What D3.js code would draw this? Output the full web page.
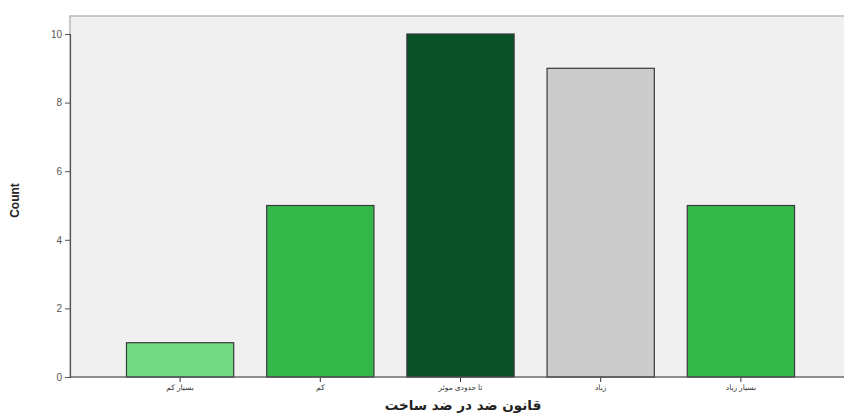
<!DOCTYPE html>
<html>
<head>
<meta charset="utf-8">
<script src="https://cdn.jsdelivr.net/npm/d3@7"></script>
<style>
  body { margin: 0; background: #fff; }
  svg { display: block; }
</style>
</head>
<body>
<svg id="chart"></svg>
<script>
// data
var categories = ["بسیار کم", "کم", "تا حدودی موثر", "زیاد", "بسیار زیاد"];
var counts = [1, 5, 10, 9, 5];
var barColors = ["#72db82", "#33b84a", "#0b5128", "#cccccc", "#33b84a"];
var yTicks = [0, 2, 4, 6, 8, 10];

var width = 844, height = 414;
var plot = { left: 70, top: 16, right: 852, bottom: 377 };

var svg = d3.select("#chart")
    .attr("width", width)
    .attr("height", height);

// plot background
svg.append("rect")
    .attr("x", plot.left)
    .attr("y", plot.top)
    .attr("width", plot.right - plot.left)
    .attr("height", plot.bottom - plot.top)
    .attr("fill", "#f0f0f0")
    .attr("stroke", "#b8b8b8")
    .attr("stroke-width", 1.5);

var x = d3.scaleBand()
    .domain(categories)
    .range([110, 811])
    .paddingInner(0.235)
    .paddingOuter(0.1175);

var y = d3.scaleLinear()
    .domain([0, 10])
    .range([plot.bottom, 34]);

svg.selectAll(".bar")
    .data(counts)
    .enter().append("rect")
    .attr("class", "bar")
    .attr("x", function (d, i) { return x(categories[i]); })
    .attr("y", function (d) { return y(d); })
    .attr("width", x.bandwidth())
    .attr("height", function (d) { return y(0) - y(d); })
    .attr("fill", function (d, i) { return barColors[i]; })
    .attr("stroke", "#3a3a3a")
    .attr("stroke-width", 1.2);

// y axis
var yAxis = svg.append("g")
    .attr("transform", "translate(" + plot.left + ",0)")
    .call(d3.axisLeft(y).tickValues(yTicks).tickSize(5).tickPadding(3));
yAxis.select(".domain").attr("stroke", "#555").attr("stroke-width", 1.2);
yAxis.selectAll(".tick line").attr("stroke", "#555");
yAxis.selectAll("text")
    .style("fill", "#555")
    .style("font-family", "Arial, 'Liberation Sans', sans-serif")
    .style("font-size", "10px");

// x axis
var xAxis = svg.append("g")
    .attr("transform", "translate(0," + plot.bottom + ")")
    .call(d3.axisBottom(x).tickSize(5).tickPadding(3));
xAxis.select(".domain").remove();
svg.append("line")
    .attr("x1", plot.left).attr("x2", plot.right)
    .attr("y1", plot.bottom).attr("y2", plot.bottom)
    .attr("stroke", "#555").attr("stroke-width", 1.2);
xAxis.selectAll(".tick line").attr("stroke", "#333");
xAxis.selectAll("text")
    .style("fill", "#333")
    .style("font-family", "'Noto Sans', 'DejaVu Sans', sans-serif")
    .style("font-size", "7.5px");

// axis titles
svg.append("text")
    .attr("transform", "translate(19," + ((plot.top + plot.bottom) / 2 + 4) + ") rotate(-90)")
    .attr("text-anchor", "middle")
    .style("font-family", "'Liberation Sans Narrow', Arial, sans-serif")
    .style("font-weight", "bold")
    .style("font-size", "12px")
    .style("fill", "#222")
    .text("Count");

svg.append("text")
    .attr("x", 463)
    .attr("y", 410)
    .attr("text-anchor", "middle")
    .style("font-family", "'DejaVu Sans', sans-serif")
    .style("font-weight", "bold")
    .style("font-size", "13.5px")
    .style("fill", "#222")
    .text("قانون ضد در ضد ساخت");
</script>
</body>
</html>
